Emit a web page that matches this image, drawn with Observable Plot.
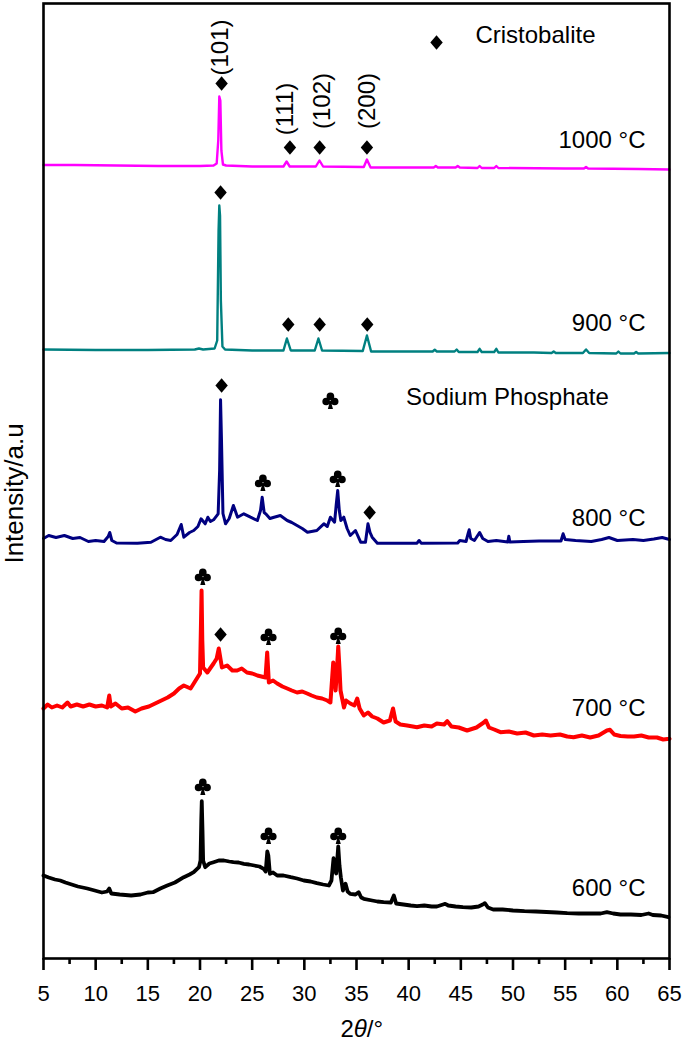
<!DOCTYPE html>
<html><head><meta charset="utf-8">
<script src="https://cdn.jsdelivr.net/npm/d3@7"></script>
<script src="https://cdn.jsdelivr.net/npm/@observablehq/plot@0.6"></script>
<style>body{margin:0;background:#fff}</style>
</head><body><div id="chart"></div>
<script>
// ---- data (2θ in degrees, intensity in a.u., patterns stacked) ----
const xTicks = [5,10,15,20,25,30,35,40,45,50,55,60,65];
const xMinorTicks = [7.5,12.5,17.5,22.5,27.5,32.5,37.5,42.5,47.5,52.5,57.5,62.5];

const s1000 = [[5,793.5],[8,793.5],[12,793],[16,792.5],[20,792.5],[21.3,793],[21.6,795],[21.75,818],[21.85,862],[21.95,858],[22.05,808],[22.2,794],[22.5,793],[25,792],[28,792],[28.3,797],[28.6,792],[31.1,792],[31.45,798],[31.8,792],[35.7,791.5],[36,799],[36.35,791],[40,791],[42.4,791],[42.6,792.5],[42.8,791],[44.5,791],[44.7,792.5],[44.9,791],[46.6,790.5],[46.8,792.5],[47,790.5],[48.2,790.5],[48.4,792.5],[48.6,790.5],[55,790],[56.8,790],[57,791.5],[57.2,790],[62,789.5],[65,789]];

const s900 = [[5,609],[10,608.5],[15,608.5],[19.5,609],[19.9,610],[20.3,609],[21.4,610],[21.65,618],[21.78,728],[21.85,753],[21.92,743],[22,658],[22.15,612],[22.4,609],[25,608],[28,608],[28.33,620],[28.7,608],[31,608],[31.35,620],[31.7,608],[35.6,607.5],[36,623],[36.4,607],[40,607],[42.3,607],[42.5,608.7],[42.7,607],[44.4,607],[44.6,609],[44.8,606.5],[46.6,606.5],[46.8,609.7],[47,606.5],[48.2,606.5],[48.4,609.7],[48.6,606],[52,606],[53.7,605.5],[53.9,607],[54.1,605.5],[56.7,605.5],[57,609],[57.3,605.5],[59.9,605],[60.1,607],[60.3,605],[61.6,605],[61.8,606.5],[62,605],[65,605.5]];

const s800 = [[5,420],[5.5,423],[6.2,421],[7,423],[7.8,420],[8.5,421],[9.3,417],[10,418],[10.8,417],[11.2,422],[11.35,426],[11.55,418],[12,415.5],[14,415.3],[15.3,416.3],[16.2,421.3],[16.7,419],[17.2,418],[17.8,424],[18.2,434],[18.45,421.3],[19,426],[19.4,428],[19.8,432],[20.1,439.7],[20.5,434.7],[20.75,441.3],[21,437],[21.3,438.7],[21.74,444.7],[21.88,488],[21.97,558.7],[22.06,518],[22.2,445],[22.45,434.7],[22.8,440],[23.2,453],[23.6,441.3],[24.2,444.7],[24.84,441.3],[25.5,438],[25.8,448],[25.96,461.3],[26.15,446],[26.3,444.7],[26.7,440],[27.1,441.3],[27.7,443],[28.36,438],[28.8,436],[29.3,433],[29.8,430],[30.3,426.3],[31.2,428],[31.87,434.7],[32.2,432],[32.5,441.3],[32.9,436.3],[33.05,453],[33.2,468],[33.35,448],[33.5,438],[33.78,441.3],[34.1,430],[34.4,423],[34.9,428],[35.4,416.3],[35.86,416.3],[36.1,434.7],[36.3,426],[36.5,421.3],[37,415.3],[40.8,415.3],[41,418],[41.2,415.3],[44.7,415.5],[44.9,418],[45.5,417],[45.7,425],[45.8,428.7],[45.95,420],[46.3,418],[46.8,426],[47.1,420],[47.6,417],[48.4,418],[49.5,416.5],[49.6,422.3],[49.7,416.5],[51,417],[52.5,417.5],[54.6,417.5],[54.8,424.7],[55,419],[56,418],[57.5,417],[58.5,419],[59.2,421],[60,418],[61.5,419],[62.5,418],[63.5,419.5],[64.3,421],[65,419]];

const s700 = [[5,250],[5.4,254],[5.8,251],[6.3,253],[6.8,251],[7.3,256],[7.6,252],[8.2,254],[8.8,252],[9.4,254],[10,252],[10.6,253],[11.1,251],[11.3,263],[11.45,252],[11.9,255],[12.5,250],[13.1,251],[13.8,247],[14.4,250],[15.1,252],[15.7,255],[16.3,258],[16.9,261],[17.5,265],[18,270],[18.45,273],[19.1,270],[19.7,280],[20,285],[20.1,338],[20.15,368],[20.22,318],[20.3,291],[20.7,286],[21.3,295],[21.6,300],[21.8,310],[22.1,291],[22.6,293],[23.1,288],[23.56,288],[24,290],[24.5,286],[25,285],[25.5,283],[26.28,281],[26.44,306],[26.6,276],[27,278],[27.4,275],[27.9,272],[28.36,270],[28.8,268],[29.3,266],[29.8,267],[30.27,265],[30.7,263],[31.2,261],[31.7,260],[32.2,258],[32.5,256],[32.65,278],[32.77,296],[32.9,283],[33,268],[33.15,293],[33.25,312],[33.38,288],[33.47,268],[33.8,251],[34,258],[34.4,255],[34.8,253],[35.07,260],[35.3,250],[35.7,243],[36.1,246],[36.5,242],[37,240],[37.6,236],[38.2,238],[38.5,250],[38.75,237],[39.2,234],[39.85,233],[40.8,231.3],[41.5,233],[42.2,232],[42.7,235],[43.4,234],[43.7,237.3],[44.1,232],[44.8,231],[45.6,228],[46.5,231],[47.2,236],[47.4,238],[47.7,231],[48.2,229],[48.8,226.3],[49.6,227],[50.4,225],[51.2,226],[52,223],[52.8,224],[53.6,223],[54.5,224],[55.2,222],[55.8,221.3],[56.6,223],[57.4,221],[58.2,223],[59,228],[59.3,228.7],[59.7,224],[60.3,222.5],[61,222],[61.6,222],[62.3,223],[63,221],[63.8,221],[64.4,219],[65,219.7]];

const s600 = [[5,83],[5.5,81],[6.1,79],[6.6,78],[7.1,76],[7.7,74],[8.3,72],[9.2,70],[9.9,68],[10.6,66],[11.1,67],[11.3,70],[11.5,65],[12.3,64],[13.4,63],[14.3,64],[15,66],[15.5,66.3],[16.2,70],[16.86,73],[17.6,76],[18.45,81.3],[19,84],[19.4,86.3],[19.9,91.3],[20.05,98],[20.12,138],[20.17,157.3],[20.24,128],[20.3,98],[20.5,91.3],[20.9,95],[21.3,96.3],[21.8,98],[22.3,98],[22.8,97],[23.2,96.3],[23.7,96],[24.2,94.7],[24.7,94],[25.2,93],[25.7,92],[26.1,89.7],[26.3,87],[26.45,107],[26.55,103],[26.7,84.7],[27,86],[27.4,83],[28,83],[28.7,81.3],[29.3,80],[29.95,78],[30.6,77],[31.2,75.3],[31.8,74],[32.35,73],[32.6,78],[32.8,100.3],[32.95,88],[33.05,85],[33.15,98],[33.25,112],[33.37,93],[33.5,81.3],[33.7,68],[33.95,74.7],[34.15,67],[34.4,64.7],[34.9,64],[35.2,66.3],[35.45,61],[35.7,59.7],[36.5,58],[37,57],[37.6,56.3],[38.3,56],[38.58,63],[38.8,55],[39.5,54],[40.2,53],[40.8,52.3],[41.5,53],[42.2,52],[42.7,52],[43.3,54],[43.5,54.7],[43.8,53],[44.5,52],[45.2,51.3],[46,51],[46.7,52],[47.1,54],[47.3,55.3],[47.6,51],[48.1,49],[49,49],[50,48],[51.1,47.3],[52.2,47],[53.2,46.5],[54.2,46],[55.2,45.3],[56.3,45],[57.4,45],[58.4,45],[59,46.3],[59.6,45],[60.3,44],[61.3,44],[62.3,43.5],[63,45],[63.4,43.5],[64.2,43],[64.9,41.3]];

const seriesNames = ["1000 °C","900 °C","800 °C","700 °C","600 °C"];
const seriesData = [s1000, s900, s800, s700, s600];
const seriesLabelY = [818, 635, 440, 250, 70];

// reflection markers (2θ, intensity position)
const diamondMarks = [[22.07,875],[28.62,811],[31.47,811],[36.0,811],[21.97,766],[28.46,634],[31.47,634],[36.03,634],[22.07,573],[36.26,446],[21.97,324]];
const clubMarks = [[26.03,476],[33.2,480],[20.27,382],[26.57,322],[33.25,323],[20.27,172],[26.57,123],[33.25,123]];
const millerLabels = ["(101)","(111)","(102)","(200)"];
const millerX = [21.9, 28.2, 31.7, 36.0];
const millerY = [911, 849.5, 857.5, 857.5];

// ---- styling ----
const colors = ["#ff00ff","#008080","#000080","#ff0000","#000000"];
const widths = [2.4, 2.4, 3, 4, 3.8];
const diamondSymbol = {draw(ctx, size){ const h = Math.sqrt(size/Math.PI), w = h*0.85; ctx.moveTo(0,-h); ctx.lineTo(w,0); ctx.lineTo(0,h); ctx.lineTo(-w,0); ctx.closePath(); }};
const clubSymbol = {draw(ctx, size){
  const r = Math.sqrt(size/Math.PI), c = 0.45*r;
  const centers = [[0,-0.5*r],[-0.5*r,0.12*r],[0.5*r,0.12*r]];
  for (const [cx,cy] of centers) { ctx.moveTo(cx + c, cy); ctx.arc(cx, cy, c, 0, 2*Math.PI); }
  ctx.moveTo(0,-0.1*r); ctx.lineTo(0.3*r, r); ctx.lineTo(-0.3*r, r); ctx.closePath();
}};

const rows = [];
seriesData.forEach((d,i) => d.forEach(([t,v]) => rows.push({t, v, s: seriesNames[i]})));
const labels = seriesNames.map((s,i) => ({s, y: seriesLabelY[i]}));
const dia = diamondMarks.map(([t,v]) => ({t,v}));
const clb = clubMarks.map(([t,v]) => ({t,v}));
const mil = millerLabels.map((m,i) => ({m, t: millerX[i], v: millerY[i]}));

const font = "'Liberation Sans', Arial, Helvetica, sans-serif";
const chart = Plot.plot({
  width: 685, height: 1051,
  marginLeft: 43, marginRight: 16, marginTop: 3, marginBottom: 93,
  style: {fontFamily: font, fontSize: "22px", color: "black", background: "white", overflow: "visible"},
  x: {domain: [5,65]},
  y: {domain: [0,955], axis: null},
  marks: [
    ...seriesNames.map((s,i) => Plot.line(rows.filter(r => r.s === s), {x: "t", y: "v", stroke: colors[i], strokeWidth: widths[i], strokeLinejoin: "round"})),
    Plot.frame({stroke: "black", strokeWidth: 2.6}),
    Plot.axisX({ticks: xTicks, tickSize: 12, tickPadding: 15, strokeWidth: 2.6, label: null, fontSize: 22, tickFormat: d => String(d)}),
    Plot.axisX({ticks: xMinorTicks, tickSize: 6, strokeWidth: 2.6, label: null, text: null}),
    Plot.text(labels, {x: 62.7, y: "y", text: "s", textAnchor: "end", fontSize: 24, fill: "black"}),
    Plot.dot(dia, {x: "t", y: "v", symbol: diamondSymbol, r: 7.3, fill: "black", stroke: null}),
    Plot.dot(clb, {x: "t", y: "v", symbol: clubSymbol, r: 8.5, fill: "black", stroke: null}),
    Plot.text(mil, {x: "t", y: "v", text: "m", rotate: -90, fontSize: 24, fill: "black"}),
    Plot.dot([{t: 42.67, v: 916}], {x: "t", y: "v", symbol: diamondSymbol, r: 7.3, fill: "black", stroke: null}),
    Plot.text([{t: 46.4, v: 923}], {x: "t", y: "v", text: () => "Cristobalite", textAnchor: "start", fontSize: 24}),
    Plot.dot([{t: 32.5, v: 558}], {x: "t", y: "v", symbol: clubSymbol, r: 8.5, fill: "black", stroke: null}),
    Plot.text([{t: 39.75, v: 561}], {x: "t", y: "v", text: () => "Sodium Phosphate", textAnchor: "start", fontSize: 24}),
    Plot.text([{t: 2.25, v: 465}], {x: "t", y: "v", text: () => "Intensity/a.u", rotate: -90, fontSize: 26}),
    Plot.text([{t: 35.5, v: -71}], {x: "t", y: "v", text: () => "2θ/°", fontSize: 24})
  ]
});
document.getElementById("chart").appendChild(chart);
chart.querySelectorAll("text").forEach(t => {
  if (t.textContent === "2θ/°") {
    t.textContent = "";
    const ns = "http://www.w3.org/2000/svg";
    const a = document.createElementNS(ns, "tspan"); a.textContent = "2";
    const b = document.createElementNS(ns, "tspan"); b.textContent = "θ"; b.setAttribute("font-style", "italic");
    const c = document.createElementNS(ns, "tspan"); c.textContent = "/°";
    t.append(a, b, c);
  }
});
</script></body></html>
